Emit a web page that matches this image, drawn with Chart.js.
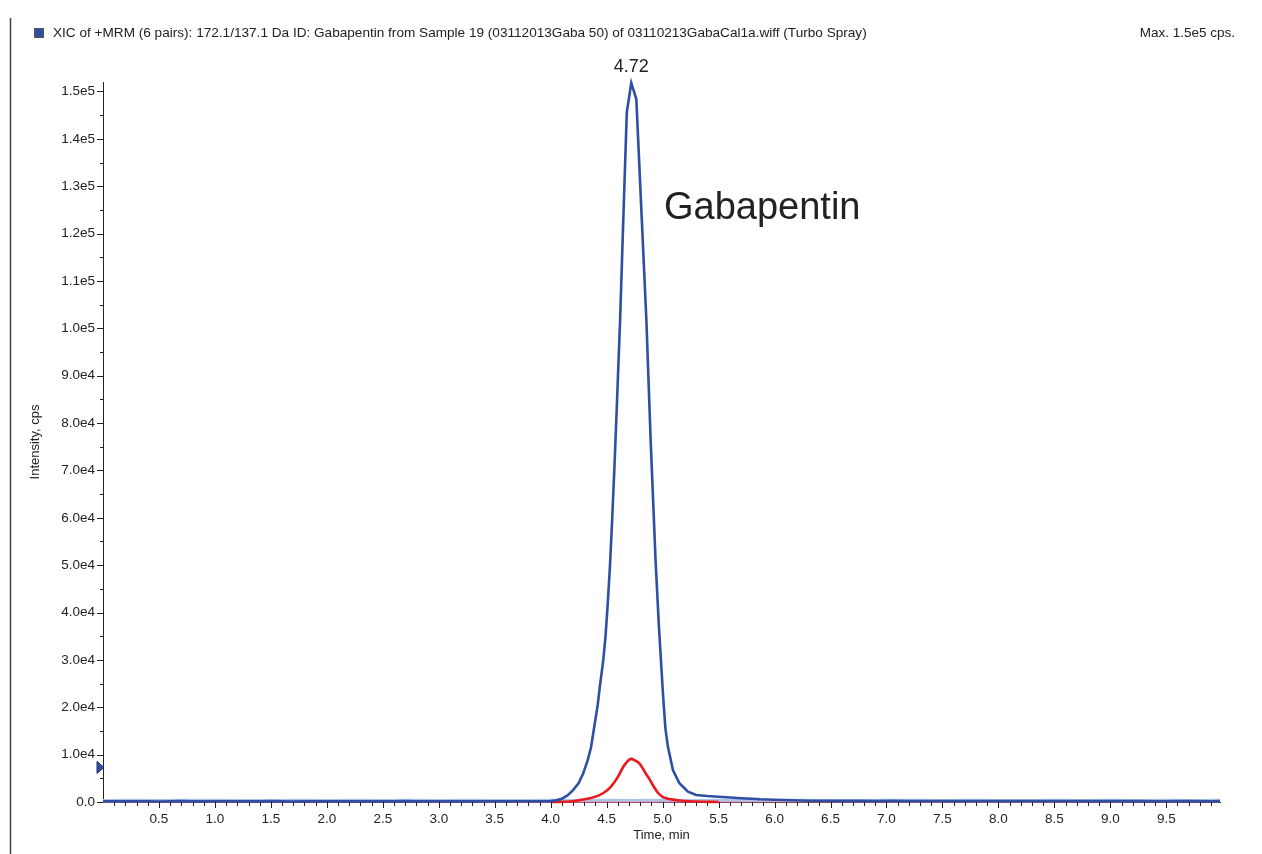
<!DOCTYPE html>
<html>
<head>
<meta charset="utf-8">
<title>XIC Gabapentin</title>
<script src="https://cdn.jsdelivr.net/npm/chart.js@4.4.1/dist/chart.umd.min.js"></script>
<style>
  html, body { margin: 0; padding: 0; background: #ffffff; }
  #wrap { position: relative; width: 1262px; height: 854px; }
</style>
</head>
<body>
<div id="wrap"><canvas id="c" width="1262" height="854"></canvas></div>
<script>
// ---- Chromatogram data (time in min, intensity in cps) ----

// 172.1/137.1 transition (main trace)
const blueTime = [
  0.0, 0.1, 0.2, 0.3, 0.4, 0.5, 0.6, 0.7, 0.8, 0.9,
  1.0, 1.1, 1.2, 1.3, 1.4, 1.5, 1.6, 1.7, 1.8, 1.9,
  2.0, 2.1, 2.2, 2.3, 2.4, 2.5, 2.6, 2.7, 2.8, 2.9,
  3.0, 3.1, 3.2, 3.3, 3.4, 3.5, 3.6, 3.7, 3.8, 3.9,
  4.00, 4.05, 4.10, 4.15, 4.20, 4.25, 4.29, 4.33, 4.36, 4.39,
  4.42, 4.44, 4.47, 4.49, 4.51, 4.53, 4.55, 4.57, 4.59, 4.62,
  4.65, 4.68, 4.72, 4.765, 4.81, 4.855, 4.893, 4.937, 4.967, 5.003,
  5.025, 5.047, 5.092, 5.15, 5.226, 5.30, 5.40, 5.50, 5.57, 5.70,
  5.80, 5.87, 6.00, 6.15, 6.31, 6.45, 6.60, 6.75, 6.90, 7.05,
  7.20, 7.35, 7.50, 7.65, 7.80, 7.95, 8.10, 8.25, 8.40, 8.55,
  8.70, 8.85, 9.00, 9.15, 9.30, 9.45, 9.60, 9.75, 9.90, 9.98
];
const blueCps = [
  140, 160, 130, 170, 150, 120, 160, 180, 140, 130,
  150, 170, 160, 130, 140, 180, 150, 120, 160, 170,
  140, 150, 130, 170, 160, 140, 150, 180, 130, 160,
  150, 140, 170, 130, 160, 150, 140, 170, 150, 160,
  180, 350, 700, 1400, 2500, 4000, 6000, 8800, 11500, 16000,
  20500, 24500, 30000, 35000, 42000, 50000, 60000, 71000, 83000, 101700,
  124000, 145600, 151800, 148400, 125000, 101700, 76400, 51000, 37000, 22900,
  15500, 11700, 6750, 3950, 2170, 1480, 1250, 1100, 990, 800,
  680, 570, 480, 380, 270, 260, 240, 230, 220, 240,
  210, 200, 220, 190, 210, 200, 180, 200, 190, 210,
  180, 190, 200, 180, 190, 170, 190, 180, 170, 180
];

// second transition (smaller peak)
const redTime = [
  4.0, 4.20, 4.26, 4.35, 4.42, 4.47, 4.51, 4.54, 4.57, 4.60,
  4.63, 4.65, 4.68, 4.70, 4.72, 4.75, 4.79, 4.82, 4.85, 4.87,
  4.90, 4.93, 4.96, 5.00, 5.04, 5.08, 5.15, 5.30, 5.50
];
const redCps = [
  0, 150, 420, 780, 1300, 1900, 2600, 3300, 4200, 5300,
  6600, 7500, 8400, 8900, 9100, 8800, 8200, 7200, 6000, 5300,
  4100, 2900, 1900, 1100, 750, 550, 300, 100, 0
];

// remaining transitions: flat baselines
const lightTime = [
  0.00, 0.25, 0.50, 0.75, 1.00, 1.25, 1.50, 1.75, 2.00, 2.25,
  2.50, 2.75, 3.00, 3.25, 3.50, 3.75, 4.00, 4.25, 4.50, 4.75,
  5.00, 5.25, 5.50, 5.75, 6.00, 6.25, 6.50, 6.75, 7.00, 7.25,
  7.50, 7.75, 8.00, 8.25, 8.50, 8.75, 9.00, 9.25, 9.50, 9.75, 9.98
];
const lightCps = [
  380, 420, 360, 400, 440, 370, 390, 410, 350, 430,
  380, 400, 370, 420, 390, 360, 410, 380, 430, 370,
  400, 390, 420, 380, 360, 410, 390, 370, 420, 400,
  380, 430, 360, 390, 410, 380, 400, 370, 420, 390, 400
];
const pinkTime = [0.0, 2.0, 4.0, 6.0, 8.0, 9.98];
const pinkCps = [0, 10, 0, 10, 0, 10];

// axis labelling
const xLabels = [0.5, 1.0, 1.5, 2.0, 2.5, 3.0, 3.5, 4.0, 4.5, 5.0, 5.5, 6.0, 6.5, 7.0, 7.5, 8.0, 8.5, 9.0, 9.5];
const yLabels = [0, 10000, 20000, 30000, 40000, 50000, 60000, 70000, 80000, 90000, 100000, 110000, 120000, 130000, 140000, 150000];
const xMinorStep = 0.1;
const yMinorStep = 5000;
const apexTime = 4.72;
const thresholdCps = 7300;

const titleText = 'XIC of +MRM (6 pairs): 172.1/137.1 Da ID: Gabapentin from Sample 19 (03112013Gaba 50) of 03110213GabaCal1a.wiff (Turbo Spray)';
const maxText = 'Max. 1.5e5 cps.';
const compoundText = 'Gabapentin';
const xTitle = 'Time, min';
const yTitle = 'Intensity, cps';

const FONT = "'Liberation Sans', Arial, Helvetica, sans-serif";
const INK = '#222222';

function pairs(ts, vs) {
  return ts.map((t, i) => ({ x: t, y: vs[i] }));
}

function yLabel(v) {
  if (v === 0) return '0.0';
  return v.toExponential(1).replace('+', '');
}

// Tick marks, threshold marker, window frame and text annotations
const decorations = {
  id: 'decorations',
  afterDraw(chart) {
    const { ctx, chartArea: a, scales: { x, y } } = chart;
    ctx.save();

    // window frame line on the left
    ctx.strokeStyle = '#444444';
    ctx.lineWidth = 1.5;
    ctx.beginPath();
    ctx.moveTo(10.5, 18);
    ctx.lineTo(10.5, 854);
    ctx.stroke();

    // tick marks: long at labelled values, short at minor steps
    ctx.strokeStyle = INK;
    ctx.lineWidth = 1;
    ctx.beginPath();
    for (let k = 1; k <= 99; k++) {
      const t = k * xMinorStep;
      const major = k % 5 === 0;
      const px = Math.round(x.getPixelForValue(t)) + 0.5;
      ctx.moveTo(px, a.bottom);
      ctx.lineTo(px, a.bottom + (major ? 6 : 4));
    }
    for (let k = 0; k <= 30; k++) {
      const v = k * yMinorStep;
      const major = k % 2 === 0;
      const py = Math.round(y.getPixelForValue(v)) + 0.5;
      ctx.moveTo(a.left, py);
      ctx.lineTo(a.left - (major ? 6 : 3), py);
    }
    ctx.stroke();

    // threshold marker on the y axis
    const ty = y.getPixelForValue(thresholdCps);
    ctx.fillStyle = '#2f4fa5';
    ctx.strokeStyle = '#1d2f66';
    ctx.beginPath();
    ctx.moveTo(a.left - 6, ty - 6);
    ctx.lineTo(a.left + 1, ty);
    ctx.lineTo(a.left - 6, ty + 6);
    ctx.closePath();
    ctx.fill();
    ctx.stroke();

    // header: legend swatch, title, max intensity
    ctx.fillStyle = '#2f4fa5';
    ctx.fillRect(34, 28, 10, 10);
    ctx.strokeStyle = '#555555';
    ctx.strokeRect(34.5, 28.5, 9, 9);

    ctx.fillStyle = INK;
    ctx.textBaseline = 'middle';
    ctx.font = '13.6px ' + FONT;
    ctx.textAlign = 'left';
    ctx.fillText(titleText, 53, 33);
    ctx.font = '13.5px ' + FONT;
    ctx.textAlign = 'right';
    ctx.fillText(maxText, 1235, 33);

    // apex retention time
    ctx.textAlign = 'center';
    ctx.font = '18px ' + FONT;
    ctx.fillText(apexTime.toFixed(2), x.getPixelForValue(apexTime), 67);

    // compound name
    ctx.textAlign = 'left';
    ctx.font = '38px ' + FONT;
    ctx.fillText(compoundText, 664, 209);

    // axis titles
    ctx.font = '13px ' + FONT;
    ctx.textAlign = 'center';
    ctx.fillText(xTitle, (a.left + a.right) / 2, 835);
    ctx.save();
    ctx.translate(35, 442);
    ctx.rotate(-Math.PI / 2);
    ctx.fillText(yTitle, 0, 0);
    ctx.restore();

    ctx.restore();
  }
};

const lineStyle = {
  showLine: true,
  pointRadius: 0,
  pointHoverRadius: 0,
  fill: false,
  clip: false,
  tension: 0
};

new Chart(document.getElementById('c'), {
  type: 'scatter',
  data: {
    datasets: [
      { ...lineStyle, label: '172.1/137.1', data: pairs(blueTime, blueCps),
        borderColor: '#2f4fa5', borderWidth: 2.6, order: 1 },
      { ...lineStyle, label: 'transition 2', data: pairs(redTime, redCps),
        borderColor: '#e8191d', borderWidth: 2.6, order: 2, cubicInterpolationMode: 'monotone' },
      { ...lineStyle, label: 'transition 3', data: pairs(lightTime, lightCps),
        borderColor: '#a9c6ea', borderWidth: 2.5, order: 3 },
      { ...lineStyle, label: 'transition 4', data: pairs(pinkTime, pinkCps),
        borderColor: '#e0709c', borderWidth: 1.3, order: 4 }
    ]
  },
  options: {
    responsive: false,
    animation: false,
    devicePixelRatio: 1,
    layout: { padding: { left: 0, right: 42, top: 82, bottom: 0 } },
    plugins: {
      legend: { display: false },
      title: { display: false },
      tooltip: { enabled: false }
    },
    events: [],
    scales: {
      x: {
        type: 'linear',
        position: 'bottom',
        min: 0,
        max: 9.98,
        afterFit(s) { s.height = 52; },
        afterBuildTicks(s) { s.ticks = xLabels.map(v => ({ value: v })); },
        grid: { drawOnChartArea: false, drawTicks: false },
        border: { display: true, color: INK, width: 1 },
        ticks: {
          autoSkip: false,
          maxRotation: 0,
          padding: 9,
          color: INK,
          font: { family: FONT, size: 13.5 },
          callback: v => v.toFixed(1)
        }
      },
      y: {
        type: 'linear',
        position: 'left',
        min: 0,
        max: 152000,
        afterFit(s) { s.width = 103; },
        afterBuildTicks(s) { s.ticks = yLabels.map(v => ({ value: v })); },
        grid: { drawOnChartArea: false, drawTicks: false },
        border: { display: true, color: INK, width: 1 },
        ticks: {
          autoSkip: false,
          padding: 8,
          color: INK,
          font: { family: FONT, size: 13.5 },
          callback: v => yLabel(v)
        }
      }
    }
  },
  plugins: [decorations]
});
</script>
</body>
</html>
